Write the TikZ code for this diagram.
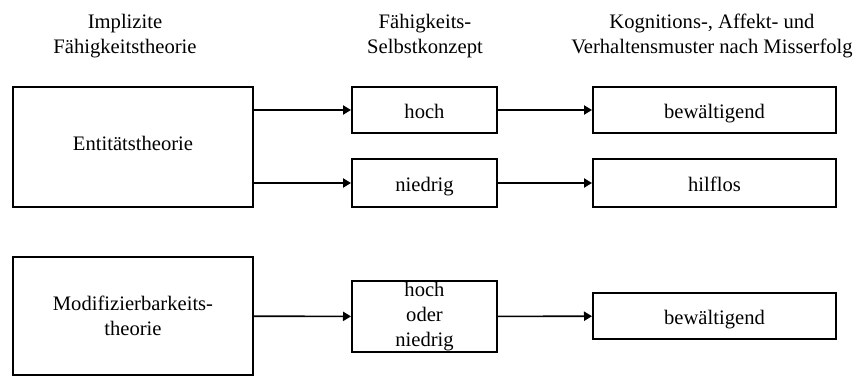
\documentclass[tikz,border=0pt]{standalone}
\usepackage{fontspec}
\setmainfont{Liberation Serif}
\usepackage{tikz}
\usetikzlibrary{arrows.meta,positioning}

\begin{document}
\begin{tikzpicture}[x=0.5pt,y=-0.5pt,>={Triangle[length=4pt,width=4.6pt]},
  box/.style={draw,line width=1pt,align=center,inner sep=0pt,font=\fontsize{10.3}{12.5}\selectfont},
  einz/.style={box,text height=8pt,text depth=0pt},
  hdr/.style={align=center,inner sep=0pt,font=\fontsize{10.3}{12.5}\selectfont},
  pfeil/.style={->,line width=0.8pt}]
\useasboundingbox (0,0) rectangle (853,376);
% Spaltenkoepfe
\node[hdr] (h1) at (125,36) {Implizite\\Fähigkeitstheorie};
\node[hdr] (h2) at (425,36) {Fähigkeits-\\Selbstkonzept};
\node[hdr] (h3) at (712,36) {Kognitions-, Affekt- und\\Verhaltensmuster nach Misserfolg};
% Entitaetstheorie
\node[box,text height=5pt,text depth=2pt,minimum width=120pt,minimum height=60pt] (ent) at (133,147) {Entitätstheorie};
\node[einz,minimum width=72.5pt,minimum height=23pt] (hoch) at (424.5,110) {hoch};
\node[einz,minimum width=72.5pt,minimum height=24pt] (nied) at (424.5,183) {niedrig};
\node[einz,minimum width=121.5pt,minimum height=23pt] (bew1) at (714.5,110) {bewältigend};
\node[einz,minimum width=121.5pt,minimum height=24pt] (hilf) at (714.5,183) {hilflos};
% Modifizierbarkeitstheorie
\node[box,minimum width=120pt,minimum height=59pt] (mod) at (133,316) {Modifizierbarkeits-\\theorie};
\node[box,minimum width=72.5pt,minimum height=35.5pt] (hon) at (424.5,316.5) {hoch\\oder\\niedrig};
\node[einz,minimum width=121.5pt,minimum height=23pt] (bew2) at (714.5,316) {bewältigend};
\draw[pfeil] (ent.east |- hoch) -- (hoch.west);
\draw[pfeil] (ent.east |- nied) -- (nied.west);
\draw[pfeil] (hoch) -- (bew1);
\draw[pfeil] (nied) -- (hilf);
\draw[pfeil] (mod) -- (hon);
\draw[pfeil] (hon) -- (bew2);
\end{tikzpicture}
\end{document}
